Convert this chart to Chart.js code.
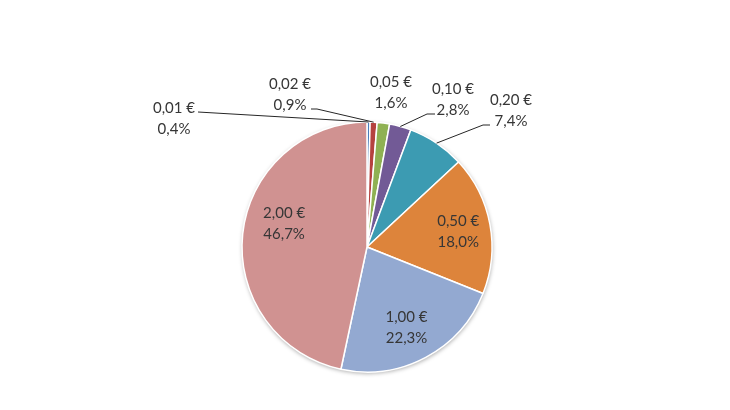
<!DOCTYPE html>
<html>
<head>
<meta charset="utf-8">
<script src="https://cdn.jsdelivr.net/npm/chart.js@4/dist/chart.umd.min.js"></script>
<style>
  html, body { margin: 0; padding: 0; background: #ffffff; }
  #box { width: 730px; height: 410px; }
</style>
</head>
<body>
<div id="box"><canvas id="graphique-pieces"></canvas></div>
<script>
/* répartition des pièces (en % du total) */

const categories = ["0,01 €", "0,02 €", "0,05 €", "0,10 €", "0,20 €", "0,50 €", "1,00 €", "2,00 €"];
const parts = [0.4, 0.9, 1.6, 2.8, 7.4, 18.0, 22.3, 46.7];
const couleurs = ["#4a7ebb", "#b5423f", "#8fb153", "#725a96", "#3c9bb2", "#dd843b", "#93a9d1", "#d09291"];

// étiquettes intérieures : distance (en rayons) et petit décalage d'angle (degrés)
const etiquettesDedans = {
  5: { r: 0.74, d: 1 },
  6: { r: 0.72, d: 2 },
  7: { r: 0.69, d: 10 }
};
// étiquettes extérieures : centre du bloc et coude du trait, en rayons depuis le centre
const etiquettesDehors = {
  0: { pos: [-1.544, -1.024], trait: [[-1.352, -1.08]] },
  1: { pos: [-0.616, -1.216], trait: [[-0.448, -1.104], [-0.40, -1.104]] },
  2: { pos: [0.192, -1.232], trait: [] },
  3: { pos: [0.688, -1.176], trait: [[0.544, -1.064], [0.48, -1.064]] },
  4: { pos: [1.152, -1.088], trait: [[0.984, -0.976], [0.928, -0.976]] }
};

function pourcent(v) {
  return v.toFixed(1).replace(".", ",") + "%";
}

const ombrePie = {
  id: "ombrePie",
  beforeDatasetsDraw(chart) {
    const arc = chart.getDatasetMeta(0).data[0];
    if (!arc) { return; }
    const p = arc.getProps(["x", "y", "outerRadius"], true);
    const ctx = chart.ctx;
    ctx.save();
    ctx.shadowColor = "rgba(0,0,0,0.35)";
    ctx.shadowBlur = 4;
    ctx.shadowOffsetX = 0.5;
    ctx.shadowOffsetY = 1.5;
    ctx.fillStyle = "#ffffff";
    ctx.beginPath();
    ctx.arc(p.x, p.y, p.outerRadius, 0, Math.PI * 2);
    ctx.fill();
    ctx.restore();
  }
};

const etiquettes = {
  id: "etiquettes",
  afterDatasetsDraw(chart) {
    const ctx = chart.ctx;
    const arcs = chart.getDatasetMeta(0).data;
    ctx.save();
    ctx.font = "15px Lato, 'Open Sans', sans-serif";
    ctx.fillStyle = "#363636";
    ctx.textAlign = "center";
    ctx.textBaseline = "middle";
    arcs.forEach(function(arc, i) {
      const p = arc.getProps(["x", "y", "startAngle", "endAngle", "outerRadius"], true);
      const r = p.outerRadius;
      const milieu = (p.startAngle + p.endAngle) / 2;
      let cx, cy;
      if (etiquettesDedans[i]) {
        const e = etiquettesDedans[i];
        const a = milieu + e.d * Math.PI / 180;
        cx = p.x + Math.cos(a) * r * e.r;
        cy = p.y + Math.sin(a) * r * e.r;
      } else if (etiquettesDehors[i]) {
        const e = etiquettesDehors[i];
        cx = p.x + e.pos[0] * r;
        cy = p.y + e.pos[1] * r;
        if (e.trait.length) {
          ctx.strokeStyle = "#262626";
          ctx.lineWidth = 1;
          ctx.beginPath();
          ctx.moveTo(p.x + e.trait[0][0] * r, p.y + e.trait[0][1] * r);
          for (let k = 1; k < e.trait.length; k++) {
            ctx.lineTo(p.x + e.trait[k][0] * r, p.y + e.trait[k][1] * r);
          }
          ctx.lineTo(p.x + Math.cos(milieu) * r, p.y + Math.sin(milieu) * r);
          ctx.stroke();
        }
      } else {
        return;
      }
      ctx.fillText(categories[i], cx, cy - 10.5);
      ctx.fillText(pourcent(parts[i]), cx, cy + 10.5);
    });
    ctx.restore();
  }
};

new Chart(document.getElementById("graphique-pieces").getContext("2d"), {
  type: "pie",
  data: {
    labels: categories,
    datasets: [{
      data: parts,
      backgroundColor: couleurs,
      borderColor: "#ffffff",
      borderWidth: 1.5
    }]
  },
  options: {
    responsive: true,
    maintainAspectRatio: false,
    animation: false,
    radius: 125,
    layout: { padding: { top: 94, bottom: 10, left: 4, right: 0 } },
    plugins: { legend: { display: false }, tooltip: { enabled: false } }
  },
  plugins: [ombrePie, etiquettes]
});
</script>
</body>
</html>
